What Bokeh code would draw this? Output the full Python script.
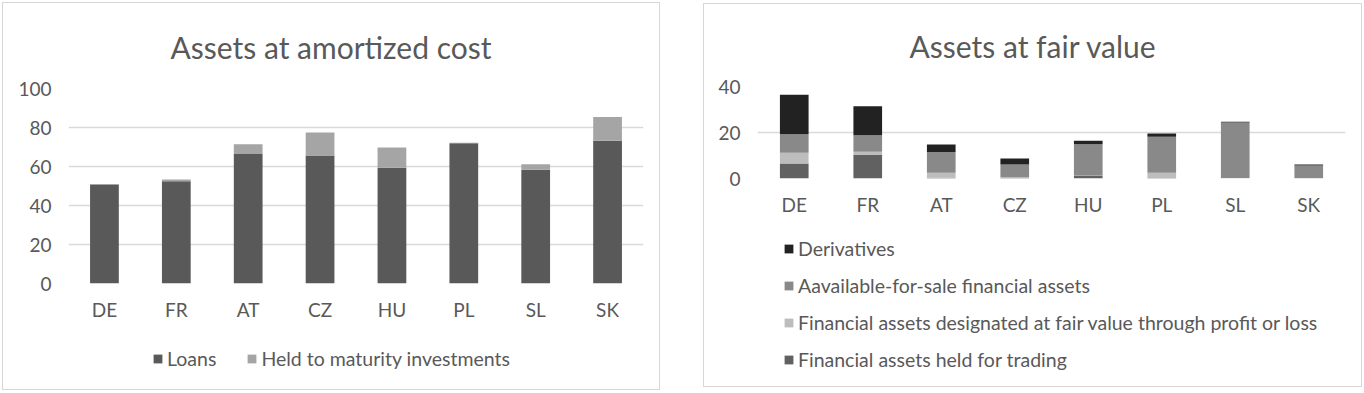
from bokeh.plotting import figure
from bokeh.models import Range1d, FactorRange, Legend, LegendItem, FixedTicker, Spacer
from bokeh.layouts import row, column
from bokeh.embed import file_html
from bokeh.resources import INLINE

countries = ["DE", "FR", "AT", "CZ", "HU", "PL", "SL", "SK"]

# Assets at amortized cost
loans = [50.5, 52.5, 66.4, 65.7, 59.3, 71.9, 58.3, 73.2]
htm = [0.5, 0.8, 5.0, 11.7, 10.5, 0.3, 2.8, 12.2]
left_names = ["Loans", "Held to maturity investments"]
left_colors = ["#595959", "#a5a5a5"]

# Assets at fair value (stack order bottom -> top)
hft = [6.5, 10.2, 0.3, 0.2, 1.3, 0.2, 0.0, 0.0]
fvtpl = [4.7, 1.4, 2.2, 0.3, 0.1, 2.3, 0.2, 0.1]
afs = [8.0, 7.2, 9.0, 5.6, 13.5, 15.7, 24.2, 5.6]
deriv = [17.2, 12.6, 3.3, 2.6, 1.5, 1.4, 0.3, 0.4]
right_names = ["Financial assets held for trading",
               "Financial assets designated at fair value through profit or loss",
               "Aavailable-for-sale financial assets",
               "Derivatives"]
right_colors = ["#616161", "#bdbdbd", "#898989", "#222222"]

left_ticks = [0, 20, 40, 60, 80, 100]
right_ticks = [0, 20, 40]

FONT = "Lato"
TXT = "#595959"
GRID = "#d9d9d9"
BORDER = {"outline": "1px solid #d6d6d6"}


def style(p, ticks, title_offset, title_standoff):
    p.title.align = "left"
    p.title.vertical_align = "middle"
    p.title.offset = title_offset
    p.title.standoff = title_standoff
    p.title.text_font = FONT
    p.title.text_font_size = "30px"
    p.title.text_font_style = "normal"
    p.title.text_color = TXT
    p.outline_line_color = None
    p.xgrid.grid_line_color = None
    p.ygrid.grid_line_color = GRID
    p.ygrid.grid_line_width = 1.5
    p.yaxis.ticker = FixedTicker(ticks=ticks)
    for ax in (p.xaxis[0], p.yaxis[0]):
        ax.axis_line_color = None
        ax.major_tick_line_color = None
        ax.minor_tick_line_color = None
        ax.major_tick_out = 0
        ax.major_tick_in = 0
        ax.major_label_text_font = FONT
        ax.major_label_text_font_size = "19px"
        ax.major_label_text_color = TXT
    p.yaxis.major_label_standoff = 17
    p.xaxis.major_label_standoff = 14


def legend_fig(width, height, names, colors, order, loc, spacing, orientation, mbl, mbr):
    lf = figure(width=width, height=height, x_range=Range1d(0, 1), y_range=Range1d(0, 1),
                x_axis_type=None, y_axis_type=None, output_backend="svg",
                toolbar_location=None, min_border_left=mbl, min_border_right=mbr,
                min_border_top=0, min_border_bottom=0)
    lf.outline_line_color = None
    # zero-size placeholder glyphs, only used as legend swatches
    rs = [lf.vbar(x=[0], top=[0], bottom=[0], width=0, fill_color=c, line_color=c,
                  line_width=0, line_alpha=0) for c in colors]
    leg = Legend(items=[LegendItem(label=names[i], renderers=[rs[i]]) for i in order],
                 orientation=orientation, location=loc)
    leg.label_text_font = FONT
    leg.label_text_font_size = "19.5px"
    leg.label_text_color = TXT
    leg.glyph_width = 11
    leg.glyph_height = 11
    leg.label_standoff = 4
    leg.label_height = 24
    leg.padding = 0
    leg.margin = 0
    leg.spacing = spacing
    leg.border_line_color = None
    leg.background_fill_alpha = 0
    lf.add_layout(leg)
    return lf


# ---------- left chart ----------
p1 = figure(x_range=FactorRange(*countries), y_range=Range1d(0, 100),
            width=656, height=327, output_backend="svg", toolbar_location=None,
            title="Assets at amortized cost",
            min_border_left=65, min_border_right=16, min_border_top=85, min_border_bottom=47)
style(p1, left_ticks, 102, 46)
src1 = dict(c=countries, loans=loans, htm=htm)
p1.vbar_stack(["loans", "htm"], x="c", width=0.4, source=src1,
              color=left_colors, line_width=0)
l1 = legend_fig(656, 59, left_names, left_colors, [0, 1], (84, 19), 30, "horizontal", 65, 16)

# ---------- right chart ----------
p2 = figure(x_range=FactorRange(*countries), y_range=Range1d(0, 40),
            width=657, height=218, output_backend="svg", toolbar_location=None,
            title="Assets at fair value",
            min_border_left=53, min_border_right=16, min_border_top=82, min_border_bottom=44)
style(p2, right_ticks, 152, 43)
src2 = dict(c=countries, hft=hft, fvtpl=fvtpl, afs=afs, deriv=deriv)
p2.vbar_stack(["hft", "fvtpl", "afs", "deriv"], x="c", width=0.39, source=src2,
              color=right_colors, line_width=0)
l2 = legend_fig(657, 164, right_names, right_colors, [3, 2, 1, 0], (26, 15), 13, "vertical", 53, 16)

panel1 = column(p1, l1, styles=BORDER)
panel2 = column(p2, l2, styles=BORDER)

layout = row(Spacer(width=3),
             column(Spacer(height=3), panel1),
             Spacer(width=45),
             column(Spacer(height=4), panel2))
open("out.html", "w").write(file_html(layout, INLINE))
